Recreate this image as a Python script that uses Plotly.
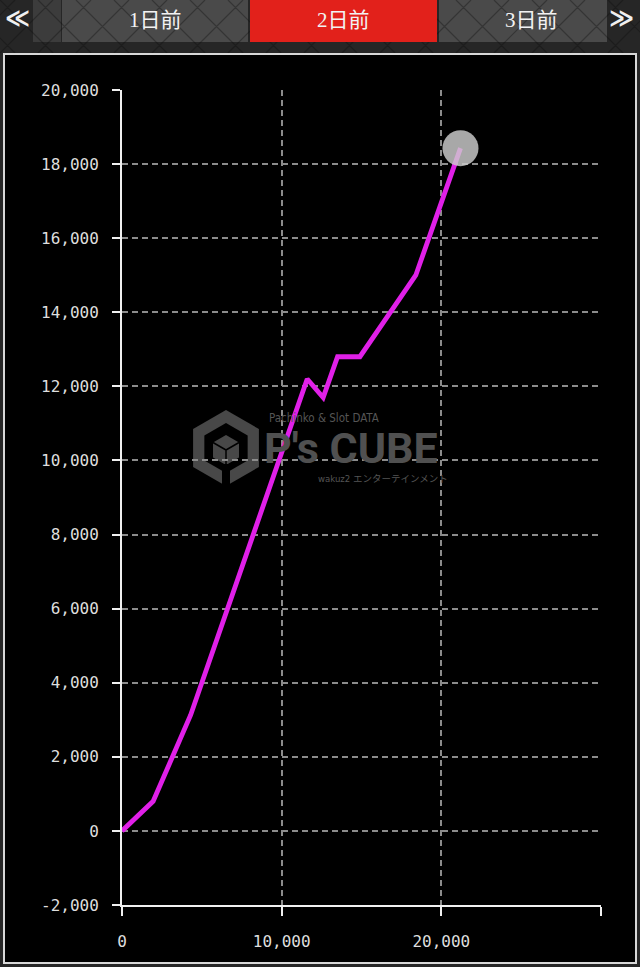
import plotly.graph_objects as go
import math

# ---- data ----
games = [0, 1950, 4300, 11600, 12600, 13500, 14900, 18400, 21200]
diff = [0, 800, 3130, 12200, 11700, 12800, 12800, 15000, 18430]
x_ticks = [0, 10000, 20000, 30000]
x_labels = ["0", "10,000", "20,000", ""]
y_ticks = list(range(-2000, 20001, 2000))
y_labels = [f"{v:,}" for v in y_ticks]
tabs = ["1日前", "2日前", "3日前"]

W, H = 640, 967
L, R, T, B = 122, 601, 90, 905

def px(x):
    return (x - L) / (R - L)

def py(y):
    return (B - y) / (B - T)

fig = go.Figure()
fig.add_trace(go.Scatter(x=games, y=diff, mode="lines",
                         line=dict(color="#e020e8", width=4.8),
                         hoverinfo="skip", showlegend=False))
fig.add_trace(go.Scatter(x=games[-1:], y=diff[-1:], mode="markers",
                         marker=dict(size=36, color="rgba(205,205,205,0.82)", line=dict(width=0)),
                         hoverinfo="skip", showlegend=False))

shapes = []
# header background
shapes.append(dict(type="rect", xref="paper", yref="paper", x0=px(0), x1=px(W), y0=py(0), y1=py(H),
                   fillcolor="#262626", line=dict(width=0), layer="below"))
# header tab pieces
pieces = [(33, 61, "#3c3c3c"), (62, 248, "#4a4a4a"), (250, 437, "#e2211b"), (439, 607, "#4a4a4a")]
for a, b, c in pieces:
    shapes.append(dict(type="rect", xref="paper", yref="paper", x0=px(a), x1=px(b), y0=py(42), y1=py(0),
                       fillcolor=c, line=dict(width=0), layer="below"))
# diamond texture lines in header
step = 38
path = ""
for k in range(-2, 20):
    x0 = k * step
    path += f"M{px(x0)},{py(0)}L{px(x0 + 53)},{py(53)}"
    path += f"M{px(x0 + 53)},{py(0)}L{px(x0)},{py(53)}"
shapes.append(dict(type="path", xref="paper", yref="paper", path=path,
                   line=dict(color="rgba(15,15,15,0.35)", width=1.2), layer="below"))
# redraw red tab over texture
shapes.append(dict(type="rect", xref="paper", yref="paper", x0=px(250), x1=px(437), y0=py(42), y1=py(0),
                   fillcolor="#e2211b", line=dict(width=0), layer="below"))
# chart frame
shapes.append(dict(type="rect", xref="paper", yref="paper", x0=px(4), x1=px(636), y0=py(963), y1=py(54),
                   fillcolor="#000000", line=dict(color="#d8d8d8", width=2), layer="below"))

# watermark logo (hexagon cube)
cx, cy, rO, rI = 226, 448, 38, 25
def hexpath(cx, cy, r):
    pts = []
    for i in range(6):
        ang = math.radians(90 + 60 * i)
        pts.append((cx + r * math.cos(ang), cy - r * math.sin(ang)))
    return "M" + "L".join(f"{px(a)},{py(b)}" for a, b in pts) + "Z"
shapes.append(dict(type="path", xref="paper", yref="paper", path=hexpath(cx, cy, rO),
                   fillcolor="#484848", line=dict(width=0), layer="below"))
shapes.append(dict(type="path", xref="paper", yref="paper", path=hexpath(cx, cy, rI),
                   fillcolor="#000000", line=dict(width=0), layer="below"))
shapes.append(dict(type="path", xref="paper", yref="paper", path=hexpath(cx, cy + 2, 15),
                   fillcolor="#484848", line=dict(width=0), layer="below"))
cube = (f"M{px(cx)},{py(cy+2)}L{px(cx)},{py(cy+17)}"
        f"M{px(cx)},{py(cy+2)}L{px(cx-13)},{py(cy-5.5)}"
        f"M{px(cx)},{py(cy+2)}L{px(cx+13)},{py(cy-5.5)}")
shapes.append(dict(type="path", xref="paper", yref="paper", path=cube,
                   line=dict(color="#000000", width=1.5), layer="below"))
shapes.append(dict(type="rect", xref="paper", yref="paper", x0=px(cx - 4), x1=px(cx + 4), y0=py(cy + 40), y1=py(cy + 16),
                   fillcolor="#000000", line=dict(width=0), layer="below"))

# zero line (dashed, bright)
shapes.append(dict(type="line", xref="paper", yref="y", x0=0, x1=1, y0=0, y1=0,
                   line=dict(color="#e8e8e8", width=2, dash="6px,4px"), layer="below"))

annotations = []
tab_cx = [155, 343, 531]
for t, c in zip(tabs, tab_cx):
    annotations.append(dict(text=t, xref="paper", yref="paper", x=px(c), y=py(20), showarrow=False,
                            font=dict(family="Liberation Serif, Noto Sans CJK JP", size=21, color="#f2f2f2"),
                            xanchor="center", yanchor="middle"))
annotations.append(dict(text="<b>≪</b>", xref="paper", yref="paper", x=px(17), y=py(18), showarrow=False,
                        font=dict(family="DejaVu Sans", size=24, color="#f0f0f0"), xanchor="center", yanchor="middle"))
annotations.append(dict(text="<b>≫</b>", xref="paper", yref="paper", x=px(621), y=py(18), showarrow=False,
                        font=dict(family="DejaVu Sans", size=24, color="#f0f0f0"), xanchor="center", yanchor="middle"))
# watermark text
annotations.append(dict(text="Pachinko &amp; Slot DATA", xref="paper", yref="paper", x=px(267), y=py(417), showarrow=False,
                        height=13, font=dict(family="DejaVu Sans Condensed", size=11.5, color="#555555"),
                        xanchor="left", yanchor="middle"))
annotations.append(dict(text="<b>P's CUBE</b>", xref="paper", yref="paper", x=px(262), y=py(448), showarrow=False,
                        height=36, font=dict(family="Roboto", size=43, color="#505050"), xanchor="left", yanchor="middle"))
annotations.append(dict(text="wakuz2 エンターテインメント", xref="paper", yref="paper", x=px(316), y=py(478), showarrow=False,
                        font=dict(family="DejaVu Sans Condensed, Noto Sans CJK JP", size=9.5, color="#555555"),
                        xanchor="left", yanchor="middle"))

tickfont = dict(family="DejaVu Sans Mono", size=16, color="#dedede")
fig.update_layout(
    width=W, height=H,
    margin=dict(l=L, r=W - R, t=T, b=H - B, pad=0),
    paper_bgcolor="#262626",
    plot_bgcolor="rgba(0,0,0,0)",
    shapes=shapes,
    annotations=annotations,
    showlegend=False,
    xaxis=dict(range=[0, 30000], tickvals=x_ticks, ticktext=x_labels, showgrid=True,
               gridcolor="#8c8c8c", gridwidth=1.5, griddash="6px,4px", zeroline=False,
               showline=True, linecolor="#f0f0f0", linewidth=2, ticks="outside", ticklen=9,
               tickwidth=2, tickcolor="#f0f0f0", tickfont=tickfont, ticklabelstandoff=12,
               fixedrange=True),
    yaxis=dict(range=[-2000, 20000], tickvals=y_ticks, ticktext=y_labels, showgrid=True,
               gridcolor="#8c8c8c", gridwidth=1.5, griddash="6px,4px", zeroline=False,
               showline=True, linecolor="#f0f0f0", linewidth=2, ticks="outside", ticklen=8,
               tickwidth=2, tickcolor="#f0f0f0", tickfont=tickfont, ticklabelstandoff=10,
               fixedrange=True),
)

fig.write_html("out.html", config={"displayModeBar": False},
               post_script="document.body.style.margin='0';document.body.style.overflow='hidden';")
